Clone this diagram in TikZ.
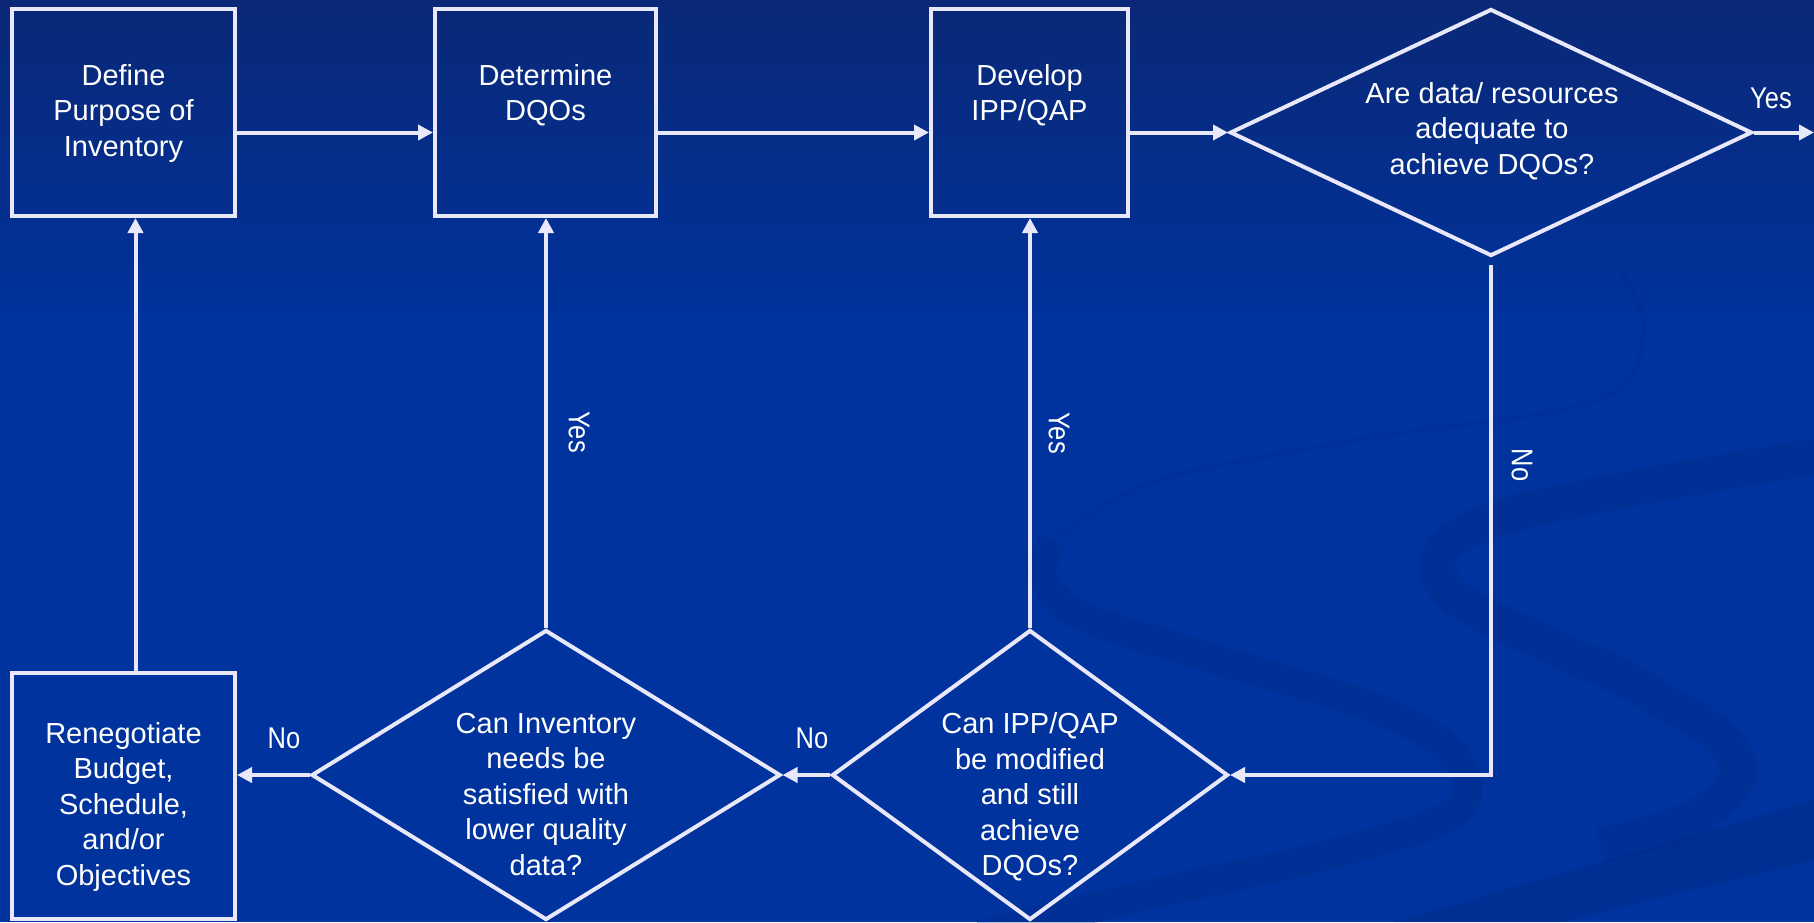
\documentclass[tikz,border=0pt]{standalone}
\usepackage{fontspec}
\setmainfont{Liberation Sans}
\usetikzlibrary{shapes.geometric,arrows.meta,calc,positioning}
\definecolor{bgtop}{RGB}{10,40,118}
\definecolor{bgmain}{RGB}{0,51,158}
\definecolor{swirl}{RGB}{0,40,132}
\definecolor{wline}{RGB}{232,232,250}

\begin{document}
\begin{tikzpicture}[x=1pt,y=-1pt,
	stepbox/.style={draw=wline,line width=4pt,minimum height=207pt,inner sep=0pt},
	decision/.style={diamond,draw=wline,line width=4pt,inner sep=0pt},
	txt/.style={text=white,align=center,inner sep=0pt,font=\fontsize{29}{35.5}\selectfont},
	lab/.style={text=white,inner sep=0pt,font=\fontsize{30}{36}\selectfont},
	arr/.style={draw=wline,line width=4pt,-{Triangle[length=15pt,width=15pt]}}]
	\useasboundingbox (0,0) rectangle (1814,922);
	% background
	\fill[bgmain] (0,0) rectangle (1814,922);
	\shade[top color=bgtop,bottom color=bgmain] (0,0) rectangle (1814,330);
	\draw[swirl,line width=5pt,opacity=0.2] plot[smooth,tension=0.6] coordinates {(1618,267) (1644,330) (1597,400) (1363,439) (1156,481) (1052,541)};
	\draw[swirl,line width=30pt,opacity=0.28] plot[smooth,tension=0.6] coordinates {(1052,541) (1042,575) (1078,614) (1208,657) (1363,704) (1441,743) (1467,786) (1441,820) (1311,859) (1156,893) (980,935)};
	\draw[swirl,line width=36pt,opacity=0.28] plot[smooth,tension=0.6] coordinates {(1830,454) (1623,490) (1493,520) (1441,552) (1446,588) (1493,619) (1623,679) (1716,734) (1737,777) (1690,820) (1600,846)};
	\fill[swirl,opacity=0.35] (1814,800) -- (1814,860) -- (1560,922) -- (1395,922) -- cycle;
	% boxes
	\node[stepbox,minimum width=223pt] (define) at (123.5,112.5) {};
	\node[stepbox,minimum width=221pt] (dqo) at (545.5,112.5) {};
	\node[stepbox,minimum width=197pt] (ipp) at (1029.5,112.5) {};
	\node[stepbox,minimum width=223pt,minimum height=246pt] (reneg) at (123.5,796) {};
	\node[decision,minimum width=522pt,minimum height=247pt] (adequate) at (1491,132.5) {};
	\node[decision,minimum width=469pt,minimum height=290pt] (lower) at (546,775) {};
	\node[decision,minimum width=396pt,minimum height=290pt] (modify) at (1030,775) {};
	% texts
	\node[txt,anchor=north] (definetxt) at ([yshift=-57pt]define.north) {Define\\Purpose of\\Inventory};
	\node[txt,anchor=north] (dqotxt) at ([yshift=-57pt]dqo.north) {Determine\\DQOs};
	\node[txt,anchor=north] (ipptxt) at ([yshift=-57pt]ipp.north) {Develop\\IPP/QAP};
	\node[txt,anchor=north] (renegtxt) at ([yshift=-51pt]reneg.north) {Renegotiate\\Budget,\\Schedule,\\and/or\\Objectives};
	\node[txt] (adequatetxt) at (1492,131) {Are data/ resources\\adequate to\\achieve DQOs?};
	\node[txt] (lowertxt) at (546,794) {Can Inventory\\needs be\\satisfied with\\lower quality\\data?};
	\node[txt] (modifytxt) at (1030,797) {Can IPP/QAP\\be modified\\and still\\achieve\\DQOs?};
	% labels
	\coordinate (exit) at (1814,132.5);
	\node[lab] (yesout) at (1771,98) {\scalebox{0.85}[1]{Yes}};
	\node[lab] (nomodify) at (812,738) {\scalebox{0.85}[1]{No}};
	\node[lab] (nolower) at (284,738) {\scalebox{0.85}[1]{No}};
	\node[lab,rotate=-90] (yeslower) at (579,432) {\scalebox{0.85}[1]{Yes}};
	\node[lab,rotate=-90] (yesmodify) at (1059,433) {\scalebox{0.85}[1]{Yes}};
	\node[lab,rotate=-90] (noadequate) at (1522,465) {\scalebox{0.85}[1]{No}};
	% connectors
	\draw[arr] (define.east |- adequate.west) -- (dqo.west |- adequate.west);
	\draw[arr] (dqo.east |- adequate.west) -- (ipp.west |- adequate.west);
	\draw[arr] (ipp.east |- adequate.west) -- (adequate.west);
	\draw[arr] (adequate.east) -- (exit);
	\draw[arr,shorten <=7pt] (adequate.south) |- (modify.east);
	\draw[arr] (modify.west) -- (lower.east);
	\draw[arr] (lower.west) -- (reneg.east |- lower.west);
	\draw[arr] (lower.north) -- (lower.north |- dqo.south);
	\draw[arr] (modify.north) -- (modify.north |- ipp.south);
	\draw[arr] ([xshift=12pt]reneg.north) -- ([xshift=12pt]define.south);
\end{tikzpicture}
\end{document}
